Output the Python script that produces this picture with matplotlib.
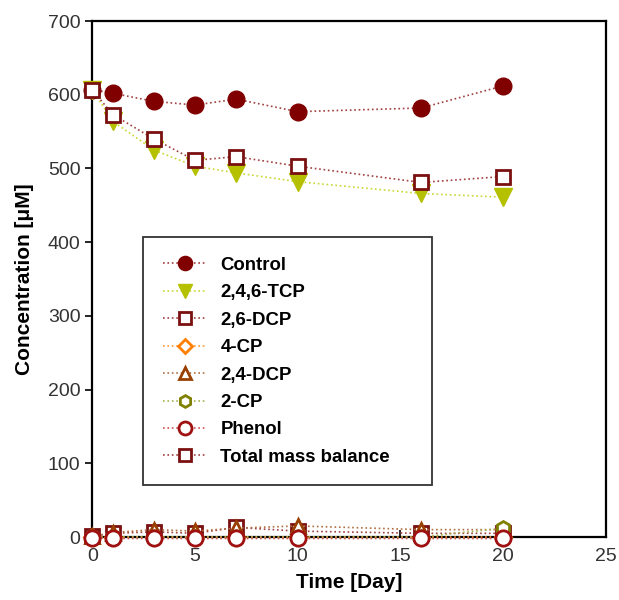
import numpy as np
import matplotlib
matplotlib.use('Agg')
import matplotlib.pyplot as plt

plt.rcParams['font.family'] = ['Liberation Sans', 'DejaVu Sans']

# sampling days
days = [0, 1, 3, 5, 7, 10, 16, 20]

# concentrations [uM]
control = [607, 602, 591, 586, 594, 577, 582, 612]
tcp_246 = [607, 564, 525, 503, 494, 482, 466, 461]
dcp_26 = [1, 5, 7, 5, 13, 8, 5, 5]
cp_4 = [0, 0, 0, 0, 0, 0, 0, 0]
dcp_24 = [1, 6, 10, 8, 12, 15, 10, 10]
cp_2 = [0, 0, 0, 0, 0, 0, 0, 12]
phenol = [-1, -2, -2, -2, -2, -2, -2, -2]
total = [607, 573, 540, 511, 516, 503, 481, 489]

fig = plt.figure(figsize=(6.19, 6.0), dpi=100)
ax = fig.add_axes([0.149, 0.105, 0.83, 0.86])

kw = dict(ls=':', lw=1.2, clip_on=False, zorder=3)
ax.plot(days, control, color='#a04040', marker='o', ms=12,
        mfc='#800000', mec='#800000', label='Control', **kw)
ax.plot(days, tcp_246, color='#c8d830', marker='v', ms=12.5,
        mfc='#b4c000', mec='#b4c000', label='2,4,6-TCP', **kw)
ax.plot(days, dcp_26, color='#a04040', marker='s', ms=9.5,
        mfc='white', mec='#7a1010', mew=2, label='2,6-DCP', **kw)
ax.plot(days, cp_4, color='#ff9933', marker='D', ms=8,
        mfc='white', mec='#ff7f00', mew=2, label='4-CP', **kw)
ax.plot(days, dcp_24, color='#b07040', marker='^', ms=10,
        mfc='white', mec='#994000', mew=2, label='2,4-DCP', **kw)
ax.plot(days, cp_2, color='#a8b050', marker='h', ms=10,
        mfc='white', mec='#808000', mew=2, label='2-CP', **kw)
ax.plot(days, phenol, color='#d05050', marker='o', ms=11,
        mfc='white', mec='#a01010', mew=2, label='Phenol', **kw)
ax.plot(days, total, color='#a04040', marker='s', ms=9.5,
        mfc='white', mec='#7a1010', mew=2, label='Total mass balance', **kw)

ax.set_xlim(0, 25)
ax.set_ylim(0, 700)
ax.set_xticks(range(0, 26, 5))
ax.set_yticks(range(0, 701, 100))
ax.tick_params(axis='x', direction='in', length=5, width=1.2, labelsize=14, pad=8)
ax.tick_params(axis='y', direction='out', length=5, width=1.2, labelsize=14)
for s in ax.spines.values():
    s.set_linewidth(1.6)
for lab in ax.get_xticklabels() + ax.get_yticklabels():
    lab.set_color('#333333')

ax.set_xlabel('Time [Day]', fontsize=15, fontweight='bold', labelpad=6)
ax.set_ylabel('Concentration [\u03bcM]', fontsize=15, fontweight='bold', labelpad=10)

leg = ax.legend(loc='upper left', bbox_to_anchor=(0.099, 0.0, 0.562, 0.581),
                mode='expand', frameon=True, fancybox=False, edgecolor='black',
                prop={'weight': 'bold', 'size': 13.4}, handlelength=2.4,
                labelspacing=0.56, borderpad=1.05, handletextpad=0.7,
                borderaxespad=0)
leg.get_frame().set_linewidth(1.3)
for h in leg.legend_handles:
    h.set_markersize(h.get_markersize() * 0.85)

fig.savefig('out.png', dpi=100)
